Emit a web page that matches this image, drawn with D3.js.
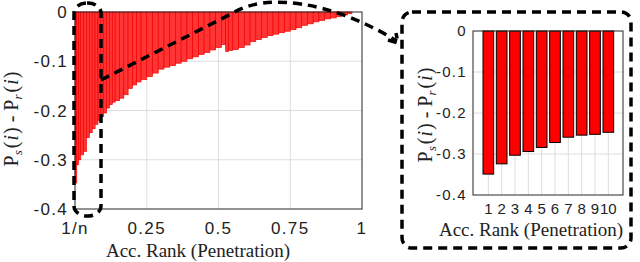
<!DOCTYPE html>
<html>
<head>
<meta charset="utf-8">
<script src="https://cdn.jsdelivr.net/npm/d3@7"></script>
<style>
  body { margin: 0; background: #fff; }
  svg { display: block; }
</style>
</head>
<body>
<script>
// left panel : bar edges along the accumulated rank, and P_s - P_r for each bar
const rankEdges = [0.000, 0.006, 0.012, 0.020, 0.030, 0.040, 0.050, 0.060, 0.070, 0.080,
  0.090, 0.100, 0.110, 0.120, 0.130, 0.140, 0.155, 0.170, 0.185, 0.200,
  0.215, 0.230, 0.250, 0.270, 0.290, 0.310, 0.330, 0.350, 0.370, 0.390,
  0.410, 0.430, 0.450, 0.470, 0.490, 0.510, 0.525, 0.535, 0.550, 0.570,
  0.590, 0.610, 0.630, 0.650, 0.670, 0.690, 0.710, 0.730, 0.750, 0.770,
  0.790, 0.810, 0.830, 0.850, 0.870, 0.890, 0.910, 0.930, 0.950, 0.965];
const rankDiff = [-0.347, -0.310, -0.300, -0.290, -0.283, -0.255, -0.245, -0.237, -0.228, -0.220,
  -0.212, -0.205, -0.195, -0.188, -0.183, -0.180, -0.175, -0.168, -0.155, -0.148,
  -0.142, -0.137, -0.131, -0.124, -0.116, -0.112, -0.109, -0.104, -0.100, -0.095,
  -0.091, -0.086, -0.082, -0.077, -0.072, -0.066, -0.080, -0.078, -0.076, -0.072,
  -0.067, -0.060, -0.056, -0.052, -0.048, -0.045, -0.042, -0.039, -0.036, -0.032,
  -0.027, -0.024, -0.020, -0.017, -0.014, -0.012, -0.009, -0.006, -0.003];
const leftXTicks = [0, 0.25, 0.5, 0.75, 1];
const leftXLabels = ["1/n", "0.25", "0.5", "0.75", "1"];
const yTicks = [0, -0.1, -0.2, -0.3, -0.4];

// right panel : first ten ranks
const topRanks = [1, 2, 3, 4, 5, 6, 7, 8, 9, 10];
const topDiff = [-0.349, -0.324, -0.303, -0.294, -0.284, -0.272, -0.259, -0.254, -0.252, -0.247];

const xLabel = "Acc. Rank (Penetration)";

const svg = d3.select("body").append("svg")
  .attr("width", 640).attr("height", 262);

const gridColor = "#dedede";
const axisColor = "#262626";
const sans = "Liberation Sans, Arial, sans-serif";
const serif = "Liberation Serif, Times New Roman, serif";

function yLabel(g, x, y) {
  const t = g.append("text")
    .attr("transform", `translate(${x},${y}) rotate(-90)`)
    .attr("text-anchor", "middle")
    .attr("font-family", serif)
    .attr("font-size", 20)
    .attr("fill", "#222");
  t.append("tspan").text("P");
  t.append("tspan").attr("font-size", 13).attr("font-style", "italic").attr("dy", 4).text("s");
  t.append("tspan").attr("dy", -4).attr("dx", 2).text("(");
  t.append("tspan").attr("font-style", "italic").attr("dx", 1).text("i");
  t.append("tspan").attr("dx", 1).text(")\u00a0-\u00a0P");
  t.append("tspan").attr("font-size", 13).attr("font-style", "italic").attr("dy", 4).text("r");
  t.append("tspan").attr("dy", -4).attr("dx", 2).text("(");
  t.append("tspan").attr("font-style", "italic").attr("dx", 1).text("i");
  t.append("tspan").attr("dx", 1).text(")");
}

// ---------- left panel ----------
const xL = d3.scaleLinear().domain([0, 1]).range([75, 362]);
const yL = d3.scaleLinear().domain([-0.4, 0]).range([209, 12]);
const left = svg.append("g");

left.append("g").selectAll("line").data(leftXTicks.slice(1, -1)).join("line")
  .attr("x1", d => xL(d)).attr("x2", d => xL(d))
  .attr("y1", yL(0)).attr("y2", yL(-0.4))
  .attr("stroke", gridColor);
left.append("g").selectAll("line").data(yTicks.slice(1, -1)).join("line")
  .attr("x1", xL(0)).attr("x2", xL(1))
  .attr("y1", d => yL(d)).attr("y2", d => yL(d))
  .attr("stroke", gridColor);

left.append("g").selectAll("rect").data(rankDiff).join("rect")
  .attr("x", (d, i) => xL(rankEdges[i]))
  .attr("width", (d, i) => xL(rankEdges[i + 1]) - xL(rankEdges[i]))
  .attr("y", yL(0))
  .attr("height", d => yL(d) - yL(0))
  .attr("fill", "#ff3535")
  .attr("stroke", "#f20000")
  .attr("stroke-width", 0.7);

left.append("rect")
  .attr("x", xL(0)).attr("y", yL(0))
  .attr("width", xL(1) - xL(0)).attr("height", yL(-0.4) - yL(0))
  .attr("fill", "none").attr("stroke", axisColor).attr("stroke-width", 1);

left.append("g").selectAll("text").data(yTicks).join("text")
  .attr("x", 68).attr("y", d => yL(d)).attr("dy", "0.36em")
  .attr("text-anchor", "end")
  .attr("font-family", sans).attr("font-size", 17)
  .attr("letter-spacing", 1.3).attr("fill", "#222")
  .text(d => String(d));
left.append("g").selectAll("text").data(leftXTicks).join("text")
  .attr("x", d => xL(d)).attr("y", 234)
  .attr("text-anchor", "middle")
  .attr("font-family", sans).attr("font-size", 17)
  .attr("letter-spacing", 1.3).attr("fill", "#222")
  .text((d, i) => leftXLabels[i]);
left.append("text")
  .attr("x", 198).attr("y", 257)
  .attr("text-anchor", "middle")
  .attr("font-family", serif)
  .attr("font-size", 19).attr("fill", "#222")
  .text(xLabel);
yLabel(left, 18, 119);

// ---------- right panel ----------
const xR = d3.scaleLinear().domain([-0.15, 11.1]).range([473, 623]);
const yR = d3.scaleLinear().domain([-0.4, 0]).range([195, 31]);
const right = svg.append("g");

right.append("g").selectAll("line").data(topRanks).join("line")
  .attr("x1", d => xR(d)).attr("x2", d => xR(d))
  .attr("y1", yR(0)).attr("y2", yR(-0.4))
  .attr("stroke", gridColor);
right.append("g").selectAll("line").data(yTicks.slice(1, -1)).join("line")
  .attr("x1", xR(-0.15)).attr("x2", xR(11.1))
  .attr("y1", d => yR(d)).attr("y2", d => yR(d))
  .attr("stroke", gridColor);

const bw = xR(0.8) - xR(0);
right.append("g").selectAll("rect").data(topDiff).join("rect")
  .attr("x", (d, i) => xR(topRanks[i]) - bw / 2)
  .attr("width", bw)
  .attr("y", yR(0))
  .attr("height", d => yR(d) - yR(0))
  .attr("fill", "#ff0000")
  .attr("stroke", "#000")
  .attr("stroke-width", 1);

right.append("rect")
  .attr("x", xR(-0.15)).attr("y", yR(0))
  .attr("width", xR(11.1) - xR(-0.15)).attr("height", yR(-0.4) - yR(0))
  .attr("fill", "none").attr("stroke", axisColor).attr("stroke-width", 1);

right.append("g").selectAll("text").data(yTicks).join("text")
  .attr("x", 467).attr("y", d => yR(d)).attr("dy", "0.36em")
  .attr("text-anchor", "end")
  .attr("font-family", sans).attr("font-size", 15)
  .attr("letter-spacing", 1.3).attr("fill", "#222")
  .text(d => String(d));
right.append("g").selectAll("text").data(topRanks).join("text")
  .attr("x", d => xR(d)).attr("y", 214)
  .attr("text-anchor", "middle")
  .attr("font-family", sans).attr("font-size", 15)
  .attr("fill", "#222")
  .text(d => d);
right.append("text")
  .attr("x", 531).attr("y", 236)
  .attr("text-anchor", "middle")
  .attr("font-family", serif)
  .attr("font-size", 19).attr("fill", "#222")
  .text(xLabel);
yLabel(right, 432, 115);

// ---------- zoom call-out ----------
const callout = svg.append("g")
  .attr("fill", "none").attr("stroke", "#000")
  .attr("stroke-width", 3.5).attr("stroke-dasharray", "9,6");

callout.append("rect")
  .attr("x", 74).attr("y", 3).attr("width", 27).attr("height", 213)
  .attr("rx", 13).attr("ry", 10);
callout.append("path")
  .attr("d", "M101,80 L233,13 C265,-7 330,0 397,41");
callout.append("path")
  .attr("stroke-dasharray", null)
  .attr("d", "M388,40 L398,43 L396,33");
callout.append("rect")
  .attr("x", 402).attr("y", 12).attr("width", 229).attr("height", 236)
  .attr("rx", 10).attr("ry", 10);
</script>
</body>
</html>
